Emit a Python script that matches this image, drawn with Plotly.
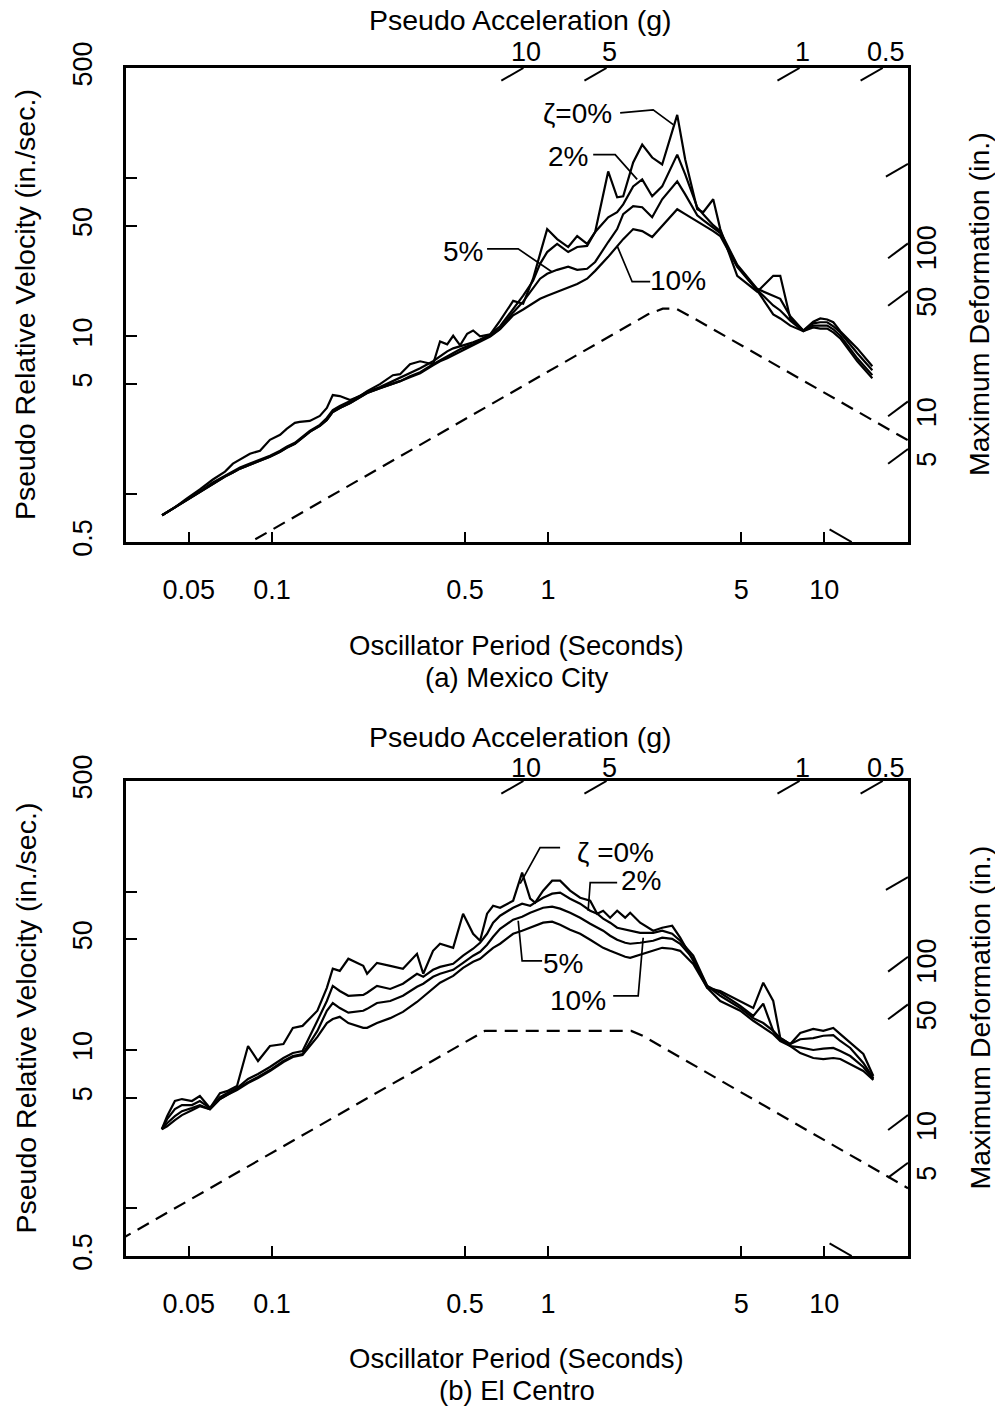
import math
import plotly.graph_objects as go

# ---------------- data ----------------
# (a) Mexico City : oscillator period (s) and pseudo relative velocity (in./sec.)
T_mexico = [0.040, 0.0445, 0.0492, 0.0548, 0.0611, 0.0676, 0.0722, 0.0766, 0.0832, 0.0905,
            0.0983, 0.107, 0.113, 0.121, 0.126, 0.137, 0.149, 0.158, 0.166, 0.176,
            0.192, 0.208, 0.221, 0.246, 0.274, 0.291, 0.316, 0.344, 0.383, 0.406,
            0.431, 0.453, 0.480, 0.509, 0.535, 0.567, 0.617, 0.670, 0.747, 0.812,
            0.882, 0.935, 0.992, 1.078, 1.182, 1.274, 1.384, 1.480, 1.650, 1.778,
            1.870, 2.032, 2.191, 2.381, 2.588, 2.934, 3.136, 3.467, 3.644, 3.961,
            4.201, 4.839, 5.718, 6.534, 6.928, 7.532, 8.394, 9.123, 9.672, 10.25,
            10.78, 11.43, 13.17, 14.93]
V_mexico_0 = [0.738, 0.828, 0.944, 1.075, 1.243, 1.395, 1.567, 1.660, 1.811, 1.891,
              2.218, 2.384, 2.601, 2.837, 2.879, 2.921, 3.140, 3.525, 4.256, 4.195,
              3.958, 4.195, 4.510, 4.990, 5.685, 5.768, 6.668, 6.964, 6.668, 9.302,
              8.906, 10.1, 8.778, 10.4, 10.9, 10.0, 10.3, 12.6, 16.8, 16.1,
              23.2, 33.3, 47.8, 41.3, 36.8, 43.2, 38.5, 45.8, 110.7, 76.0,
              77.1, 126.1, 163.6, 135.6, 122.5, 252.7, 131.7, 63.8, 61.1, 73.8,
              47.8, 24.2, 19.2, 24.2, 24.2, 13.0, 10.9, 12.4, 13.0, 12.8,
              12.3, 10.8, 8.40, 6.48]
V_mexico_2 = [0.738, 0.828, 0.930, 1.044, 1.190, 1.317, 1.395, 1.479, 1.567, 1.660,
              1.759, 1.891, 2.004, 2.124, 2.250, 2.526, 2.756, 3.050, 3.424, 3.628,
              3.901, 4.195, 4.445, 4.778, 5.212, 5.443, 5.853, 6.293, 6.964, 7.486,
              8.048, 8.405, 8.652, 8.906, 9.170, 9.574, 10.3, 11.6, 15.0, 18.1,
              22.5, 28.8, 34.2, 38.5, 34.2, 36.8, 37.4, 45.8, 56.8, 61.1,
              68.6, 89.1, 98.6, 77.1, 89.1, 141.5, 106.0, 65.7, 59.4, 50.6,
              46.4, 28.4, 20.0, 18.1, 17.3, 13.4, 10.9, 12.1, 12.3, 12.3,
              11.6, 10.6, 7.82, 6.11]
V_mexico_5 = [0.738, 0.828, 0.930, 1.044, 1.173, 1.298, 1.375, 1.457, 1.544, 1.636,
              1.734, 1.864, 1.975, 2.093, 2.218, 2.490, 2.717, 2.963, 3.327, 3.525,
              3.790, 4.135, 4.381, 4.710, 4.990, 5.212, 5.603, 5.938, 6.668, 7.065,
              7.486, 7.818, 8.284, 8.652, 8.906, 9.437, 10.1, 11.2, 14.2, 16.6,
              20.0, 23.2, 24.9, 26.4, 27.6, 26.4, 26.8, 29.6, 39.6, 47.8,
              59.4, 66.7, 65.7, 56.8, 73.8, 95.8, 79.3, 58.5, 54.4, 48.5,
              45.1, 28.0, 19.7, 15.7, 14.6, 12.6, 10.8, 11.7, 11.7, 11.7,
              11.1, 10.1, 7.27, 5.69]
V_mexico_10 = [0.738, 0.828, 0.930, 1.044, 1.173, 1.298, 1.375, 1.457, 1.544, 1.636,
               1.734, 1.864, 1.975, 2.093, 2.218, 2.490, 2.717, 2.963, 3.327, 3.525,
               3.790, 4.135, 4.381, 4.710, 4.990, 5.212, 5.523, 5.853, 6.572, 6.964,
               7.272, 7.595, 8.048, 8.405, 8.778, 9.302, 10.0, 11.1, 13.6, 14.8,
               16.1, 17.3, 18.1, 19.2, 20.3, 21.5, 23.2, 26.0, 31.9, 37.4,
               41.3, 47.8, 46.4, 42.6, 49.9, 63.8, 59.4, 53.6, 50.6, 46.4,
               43.2, 27.6, 19.5, 13.8, 13.0, 11.7, 10.8, 11.4, 11.2, 11.2,
               10.6, 9.71, 6.96, 5.44]
dashed_T_mexico = [0.087, 2.3, 2.6, 2.9, 3.3, 20.1]
dashed_V_mexico = [0.52, 13.8, 15.0, 15.0, 13.3, 2.2]

# (b) El Centro
T_elcentro = [0.0399, 0.0417, 0.0445, 0.0472, 0.0513, 0.0548, 0.0596, 0.0648, 0.0687, 0.0747,
              0.0819, 0.0890, 0.0983, 0.110, 0.119, 0.129, 0.146, 0.158, 0.166, 0.176,
              0.189, 0.214, 0.221, 0.240, 0.268, 0.298, 0.335, 0.353, 0.383, 0.406,
              0.453, 0.492, 0.535, 0.567, 0.601, 0.632, 0.670, 0.747, 0.805, 0.861,
              0.897, 0.959, 1.034, 1.105, 1.201, 1.306, 1.420, 1.505, 1.582, 1.677,
              1.778, 1.901, 1.982, 2.154, 2.401, 2.588, 2.813, 3.007, 3.353, 3.768,
              4.201, 4.962, 5.531, 6.012, 6.534, 6.928, 7.532, 8.185, 9.123, 9.917,
              10.78, 11.43, 12.42, 13.85, 15.05]
V_elcentro_0 = [3.16, 3.82, 4.76, 4.90, 4.76, 5.12, 4.30, 5.34, 5.50, 5.92,
                10.6, 8.52, 10.6, 10.9, 13.8, 14.2, 17.7, 24.7, 32.6, 31.6,
                37.7, 34.0, 30.3, 35.5, 34.0, 32.6, 40.5, 30.3, 42.3, 46.9,
                44.2, 72.6, 54.2, 49.0, 72.6, 81.5, 79.2, 87.7, 131.9, 90.3,
                85.2, 101.5, 117.4, 117.4, 101.5, 91.6, 87.7, 72.6, 75.8, 68.5,
                75.8, 68.5, 73.6, 63.7, 56.7, 59.2, 60.9, 51.2, 36.6, 24.7,
                23.6, 20.4, 18.4, 26.6, 20.4, 11.9, 10.9, 12.8, 13.6, 13.2,
                13.8, 12.6, 11.1, 9.43, 6.85]
V_elcentro_2 = [3.16, 3.66, 4.23, 4.49, 4.49, 4.76, 4.30, 5.04, 5.34, 5.75,
                6.56, 7.05, 7.81, 8.90, 9.57, 9.86, 15.3, 20.4, 25.4, 23.6,
                22.0, 22.3, 23.0, 25.4, 24.3, 26.2, 30.3, 29.0, 32.1, 33.5,
                35.0, 39.4, 43.6, 47.6, 54.2, 63.7, 70.5, 79.2, 84.0, 81.5,
                85.2, 91.6, 97.1, 98.6, 90.3, 84.0, 75.8, 72.6, 67.5, 63.7,
                59.2, 57.5, 56.7, 55.0, 55.0, 56.7, 54.2, 49.0, 39.4, 25.4,
                23.0, 19.0, 16.4, 19.6, 13.2, 11.9, 10.9, 11.7, 11.9, 12.3,
                12.4, 11.4, 10.3, 8.28, 6.65]
V_elcentro_5 = [3.16, 3.45, 3.82, 4.11, 4.30, 4.49, 4.23, 4.90, 5.19, 5.67,
                6.27, 6.75, 7.47, 8.52, 9.16, 9.43, 13.2, 17.7, 19.8, 18.4,
                17.2, 17.7, 18.2, 19.8, 20.4, 22.0, 25.1, 26.2, 29.0, 30.3,
                32.1, 35.5, 39.4, 41.7, 46.2, 51.9, 58.3, 66.5, 69.5, 73.6,
                75.8, 79.2, 80.4, 78.1, 73.6, 68.5, 62.7, 59.2, 56.7, 52.7,
                49.7, 47.6, 46.9, 47.6, 49.0, 51.2, 50.4, 46.9, 37.7, 25.4,
                22.0, 18.4, 15.9, 14.8, 13.2, 11.7, 10.6, 10.4, 10.0, 10.2,
                10.3, 9.86, 9.16, 7.81, 6.56]
V_elcentro_10 = [3.16, 3.30, 3.61, 3.88, 4.17, 4.42, 4.23, 4.90, 5.19, 5.58,
                 6.18, 6.65, 7.37, 8.40, 9.03, 9.30, 12.1, 14.8, 15.7, 16.2,
                 14.8, 13.8, 13.8, 14.8, 15.9, 17.4, 20.1, 21.7, 24.7, 26.6,
                 29.4, 33.0, 36.1, 37.7, 41.1, 44.2, 46.9, 54.2, 56.7, 59.2,
                 60.9, 63.7, 64.6, 61.8, 57.5, 54.2, 49.7, 46.9, 44.2, 42.3,
                 40.5, 38.8, 38.2, 39.9, 42.3, 44.2, 43.6, 42.3, 35.0, 24.7,
                 20.4, 17.7, 15.3, 13.8, 12.6, 11.4, 10.6, 9.57, 8.90, 8.77,
                 8.90, 8.77, 8.15, 7.37, 6.46]
dashed_T_elcentro = [0.028, 0.59, 2.0, 2.2, 20.1]
dashed_V_elcentro = [0.63, 13.2, 13.2, 12.3, 1.34]

# axis tick values
x_tickvals = [0.05, 0.1, 0.5, 1, 5, 10]
x_ticktext = ['0.05', '0.1', '0.5', '1', '5', '10']
y_tickvals = [0.5, 1, 5, 10, 50, 100, 500]
y_ticktext = ['0.5', '', '5', '10', '50', '', '500']
accel_labelled = [10, 5, 1, 0.5]          # g, ticks on the top edge
accel_right = [0.1]                        # g, unlabelled tick on the right edge
deform_labelled = [5, 10, 50, 100]         # in., ticks on the right edge
deform_bottom = [1]                        # in., unlabelled tick on the bottom edge

damping_labels_mexico = [('ζ=0%', 1.274, 256), ('2%', 1.182, 137), ('5%', 0.492, 34.3), ('10%', 2.958, 22.5)]
leaders_mexico = [([1.823, 2.401, 2.838], [260, 272, 219]),
                  ([1.456, 1.749, 2.101], [141.5, 141.5, 98.6]),
                  ([0.601, 0.779, 1.034], [35.8, 35.8, 25.6]),
                  ([2.342, 2.015, 1.778], [22.2, 22.2, 37.4])]
damping_labels_elcentro = [('ζ =0%', 1.749, 176.5), ('2%', 2.173, 117.4), ('5%', 1.133, 35.0), ('10%', 1.284, 20.4)]
leaders_elcentro = [([1.105, 0.935, 0.792], [189.9, 189.9, 112.3]),
                    ([1.778, 1.420, 1.396], [114.0, 114.0, 75.8]),
                    ([0.951, 0.805, 0.779], [36.6, 36.6, 65.5]),
                    ([1.720, 2.119, 2.209], [21.97, 21.97, 51.2])]

G = 386.09                      # in./s^2
T_MIN, T_MAX = 0.0296, 20.1
V_MIN, V_MAX = 0.5, 500

# ---------------- figure ----------------
W, H = 995, 1408
FONT = 'Liberation Sans, Arial, Helvetica, sans-serif'
fig = go.Figure()
annotations = []

def px_y(p):
    return 1 - p / H

def ann(**kw):
    d = dict(showarrow=False, xanchor='center', yanchor='middle', borderpad=0)
    d.update(kw)
    annotations.append(d)

panels = [
    dict(xa='x', ya='y', T=T_mexico, curves=[V_mexico_0, V_mexico_2, V_mexico_5, V_mexico_10],
         dT=dashed_T_mexico, dV=dashed_V_mexico, labels=damping_labels_mexico, leaders=leaders_mexico,
         top=68, bottom=542, caption='(a) Mexico City', acc_title=20, acc_ticks=52, xtitle=646, cap=678),
    dict(xa='x2', ya='y2', T=T_elcentro, curves=[V_elcentro_0, V_elcentro_2, V_elcentro_5, V_elcentro_10],
         dT=dashed_T_elcentro, dV=dashed_V_elcentro, labels=damping_labels_elcentro, leaders=leaders_elcentro,
         top=781, bottom=1256, caption='(b) El Centro', acc_title=737, acc_ticks=768, xtitle=1358, cap=1390),
]

line_style = dict(color='black', width=2.2)
tick_style = dict(color='black', width=2)
kA = 10 ** 0.08
for p in panels:
    xa, ya = p['xa'], p['ya']
    for V in p['curves']:
        fig.add_trace(go.Scatter(x=p['T'], y=V, mode='lines', line=line_style, xaxis=xa, yaxis=ya, hoverinfo='skip'))
    fig.add_trace(go.Scatter(x=p['dT'], y=p['dV'], mode='lines', xaxis=xa, yaxis=ya, hoverinfo='skip',
                             line=dict(color='black', width=2.2, dash='13px,8px')))
    # leader lines
    for lt, lv in p['leaders']:
        fig.add_trace(go.Scatter(x=lt, y=lv, mode='lines', line=dict(color='black', width=1.7),
                                 xaxis=xa, yaxis=ya, hoverinfo='skip'))
    # pseudo-acceleration ticks (constant A lines: V = A g T / 2pi)
    for A in accel_labelled:
        Tt = 2 * math.pi * V_MAX / (A * G)
        fig.add_trace(go.Scatter(x=[Tt / kA, Tt], y=[V_MAX / kA, V_MAX], mode='lines', line=tick_style,
                                 xaxis=xa, yaxis=ya, hoverinfo='skip'))
        ann(x=math.log10(Tt), y=px_y(p['acc_ticks']), xref=xa, yref='paper', text=('%g' % A),
            xshift=3, font=dict(size=27))
    for A in accel_right:
        Vr = A * G * T_MAX / (2 * math.pi)
        fig.add_trace(go.Scatter(x=[T_MAX / kA, T_MAX], y=[Vr / kA, Vr], mode='lines', line=tick_style,
                                 xaxis=xa, yaxis=ya, hoverinfo='skip'))
    # maximum deformation ticks (constant D lines: V = 2 pi D / T)
    for D in deform_labelled:
        Vd = 2 * math.pi * D / T_MAX
        fig.add_trace(go.Scatter(x=[T_MAX / 10 ** 0.072, T_MAX], y=[Vd, Vd * 10 ** 0.094], mode='lines',
                                 line=tick_style, xaxis=xa, yaxis=ya, hoverinfo='skip'))
        ann(x=927 / W, y=math.log10(Vd), xref='paper', yref=ya, text=('%g' % D), textangle=-90,
            yshift=(10 if D == 100 else 4), font=dict(size=27))
    for D in deform_bottom:
        Tb = 2 * math.pi * D / V_MIN
        fig.add_trace(go.Scatter(x=[Tb / kA, Tb], y=[V_MIN * kA, V_MIN], mode='lines', line=tick_style,
                                 xaxis=xa, yaxis=ya, hoverinfo='skip'))
    # damping labels
    for txt, tx, vy in p['labels']:
        ann(x=math.log10(tx), y=math.log10(vy), xref=xa, yref=ya, text=txt, font=dict(size=28))
    mid = (p['top'] + p['bottom']) / 2
    ann(x=520 / W, y=px_y(p['acc_title']), xref='paper', yref='paper', text='Pseudo Acceleration (g)',
        font=dict(size=28.5))
    ann(x=25 / W, y=px_y(mid), xref='paper', yref='paper', text='Pseudo Relative Velocity (in./sec.)',
        textangle=-90, font=dict(size=28.5))
    ann(x=979 / W, y=px_y(mid - 1), xref='paper', yref='paper', text='Maximum Deformation (in.)',
        textangle=-90, font=dict(size=28.5))
    ann(x=516 / W, y=px_y(p['xtitle']), xref='paper', yref='paper', text='Oscillator Period (Seconds)',
        font=dict(size=27.5))
    ann(x=517 / W, y=px_y(p['cap']), xref='paper', yref='paper', text=p['caption'], font=dict(size=27.5))

xaxis_common = dict(type='log', range=[math.log10(T_MIN), math.log10(T_MAX)], tickvals=x_tickvals,
                    ticktext=x_ticktext, ticks='inside', ticklen=10, tickwidth=2, tickcolor='black',
                    showline=True, linecolor='black', linewidth=2.5, mirror=True, showgrid=False,
                    zeroline=False, tickfont=dict(size=27), ticklabelstandoff=22, automargin=False,
                    domain=[126 / W, 908 / W])
yaxis_common = dict(type='log', range=[math.log10(V_MIN), math.log10(V_MAX)], tickvals=y_tickvals,
                    ticktext=y_ticktext, ticks='inside', ticklen=11, tickwidth=2, tickcolor='black',
                    showline=True, linecolor='black', linewidth=2.5, mirror=True, showgrid=False,
                    zeroline=False, tickangle=-90, tickfont=dict(size=27), ticklabelstandoff=20,
                    automargin=False)

fig.update_layout(
    template='none',
    width=W, height=H, autosize=False, margin=dict(l=0, r=0, t=0, b=0, pad=0, autoexpand=False),
    paper_bgcolor='white', plot_bgcolor='white', showlegend=False,
    font=dict(family=FONT, color='black', size=27),
    xaxis=dict(xaxis_common, anchor='y'),
    yaxis=dict(yaxis_common, anchor='x', domain=[px_y(542), px_y(68)]),
    xaxis2=dict(xaxis_common, anchor='y2'),
    yaxis2=dict(yaxis_common, anchor='x2', domain=[px_y(1256), px_y(781)]),
    annotations=annotations,
)

fig.write_html('out.html')
